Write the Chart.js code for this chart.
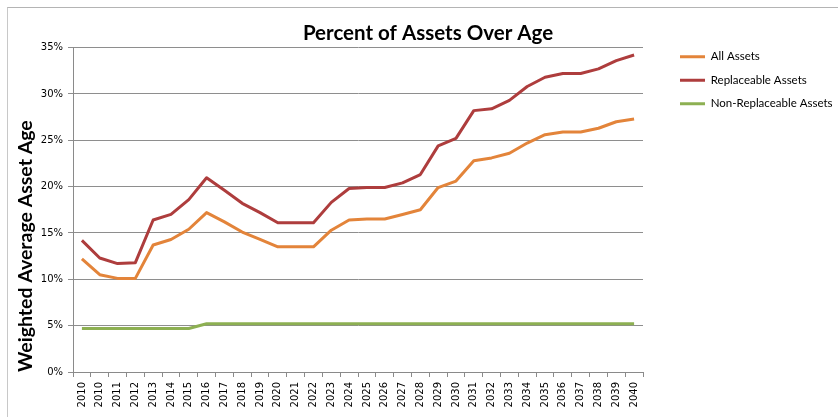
<!DOCTYPE html>
<html>
<head>
<meta charset="utf-8">
<script src="https://cdn.jsdelivr.net/npm/chart.js@4.4.1/dist/chart.umd.min.js"></script>
<style>
  html, body { margin: 0; padding: 0; background: #fff; }
  #wrap { position: relative; width: 838px; height: 417px; overflow: hidden; }
  #frame { position: absolute; left: 7px; top: 7px; width: 900px; height: 500px;
           border-top: 1px solid #b4b4b4; border-left: 1px solid #c8c8c8; pointer-events: none; }
  canvas { display: block; }
</style>
</head>
<body>
<div id="wrap">
  <canvas id="c" width="838" height="417"></canvas>
  <div id="frame"></div>
</div>
<script>
const categories = ['2010','2010','2011','2012','2013','2014','2015','2016','2017','2018','2019','2020','2021','2022','2023','2024','2025','2026','2027','2028','2029','2030','2031','2032','2033','2034','2035','2036','2037','2038','2039','2040'];
const allAssets = [12.2, 10.5, 10.1, 10.1, 13.7, 14.3, 15.4, 17.2, 16.2, 15.1, 14.3, 13.5, 13.5, 13.5, 15.3, 16.4, 16.5, 16.5, 17.0, 17.5, 19.9, 20.6, 22.8, 23.1, 23.6, 24.7, 25.6, 25.9, 25.9, 26.3, 27.0, 27.3];
const replaceableAssets = [14.2, 12.3, 11.7, 11.8, 16.4, 17.0, 18.6, 20.95, 19.6, 18.2, 17.2, 16.1, 16.1, 16.1, 18.3, 19.8, 19.9, 19.9, 20.4, 21.3, 24.4, 25.2, 28.2, 28.4, 29.3, 30.8, 31.8, 32.2, 32.2, 32.7, 33.6, 34.2];
const nonReplaceableAssets = [4.7, 4.7, 4.7, 4.7, 4.7, 4.7, 4.7, 5.2, 5.2, 5.2, 5.2, 5.2, 5.2, 5.2, 5.2, 5.2, 5.2, 5.2, 5.2, 5.2, 5.2, 5.2, 5.2, 5.2, 5.2, 5.2, 5.2, 5.2, 5.2, 5.2, 5.2, 5.2];
const seriesNames = ['All Assets', 'Replaceable Assets', 'Non-Replaceable Assets'];
const yTicks = [0, 5, 10, 15, 20, 25, 30, 35];

const colors = ['#E3843A', '#AE3D3D', '#8DB052'];

const legendFix = {
  id: 'legendFix',
  beforeLayout(chart) {
    const lg = chart.legend;
    if (lg && !lg._patched) {
      const orig = lg.fit.bind(lg);
      lg.fit = function () { orig(); this.width = 195; };
      lg._patched = true;
    }
  },
  afterLayout(chart) {
    const lg = chart.legend;
    const w = lg.right - lg.left, h = lg.bottom - lg.top;
    lg.left = 668; lg.right = lg.left + w;
    lg.top = 39; lg.bottom = lg.top + h;
  }
};

new Chart(document.getElementById('c'), {
  type: 'line',
  data: {
    labels: categories,
    datasets: [
      { label: seriesNames[0], data: allAssets, borderColor: colors[0], backgroundColor: colors[0] },
      { label: seriesNames[1], data: replaceableAssets, borderColor: colors[1], backgroundColor: colors[1] },
      { label: seriesNames[2], data: nonReplaceableAssets, borderColor: colors[2], backgroundColor: colors[2] }
    ]
  },
  options: {
    responsive: false,
    animation: false,
    devicePixelRatio: 1,
    layout: { padding: { left: 18, right: 0, top: 0, bottom: 0 } },
    elements: {
      line: { borderWidth: 3, tension: 0, borderCapStyle: 'butt', borderJoinStyle: 'round' },
      point: { radius: 0, hoverRadius: 0 }
    },
    plugins: {
      title: {
        display: true,
        text: 'Percent of Assets Over Age',
        color: '#000',
        font: { family: 'Lato', size: 20.5, weight: 'bold', lineHeight: 1.2 },
        padding: { top: 21, bottom: 2 }
      },
      legend: {
        display: true,
        position: 'right',
        align: 'start',
        labels: {
          boxWidth: 25,
          boxHeight: 3,
          padding: 12,
          color: '#000',
          font: { family: 'Lato', size: 11.5 },
          generateLabels(chart) {
            return chart.data.datasets.map((ds, i) => ({
              text: ds.label,
              fillStyle: ds.borderColor,
              strokeStyle: ds.borderColor,
              lineWidth: 0,
              hidden: false,
              datasetIndex: i
            }));
          }
        }
      },
      tooltip: { enabled: false }
    },
    scales: {
      x: {
        offset: true,
        grid: { display: true, offset: true, drawOnChartArea: false, drawTicks: true, tickLength: 5, color: '#8a8a8a' },
        border: { display: true, color: '#8a8a8a', width: 1 },
        ticks: {
          autoSkip: false, maxRotation: 90, minRotation: 90, padding: 5,
          color: '#000', font: { family: 'DejaVu Sans', size: 10 }
        },
        afterFit(scale) { scale.height = 45; }
      },
      y: {
        min: 0, max: 35,
        afterBuildTicks(scale) { scale.ticks = yTicks.map(v => ({ value: v })); },
        grid: { color: '#8e8e8e', lineWidth: 1, tickLength: 5, drawTicks: true },
        border: { display: true, color: '#8a8a8a', width: 1 },
        ticks: {
          padding: 5, color: '#000', font: { family: 'DejaVu Sans', size: 10 },
          callback: (v) => v + '%'
        },
        title: {
          display: true,
          text: 'Weighted Average Asset Age',
          color: '#000',
          align: 'start',
          font: { family: 'Lato', size: 19.5, weight: 'bold', lineHeight: 1 },
          padding: { top: -2, bottom: 0 }
        },
        afterFit(scale) { scale.width = 55; }
      }
    }
  },
  plugins: [legendFix]
});
</script>
</body>
</html>
